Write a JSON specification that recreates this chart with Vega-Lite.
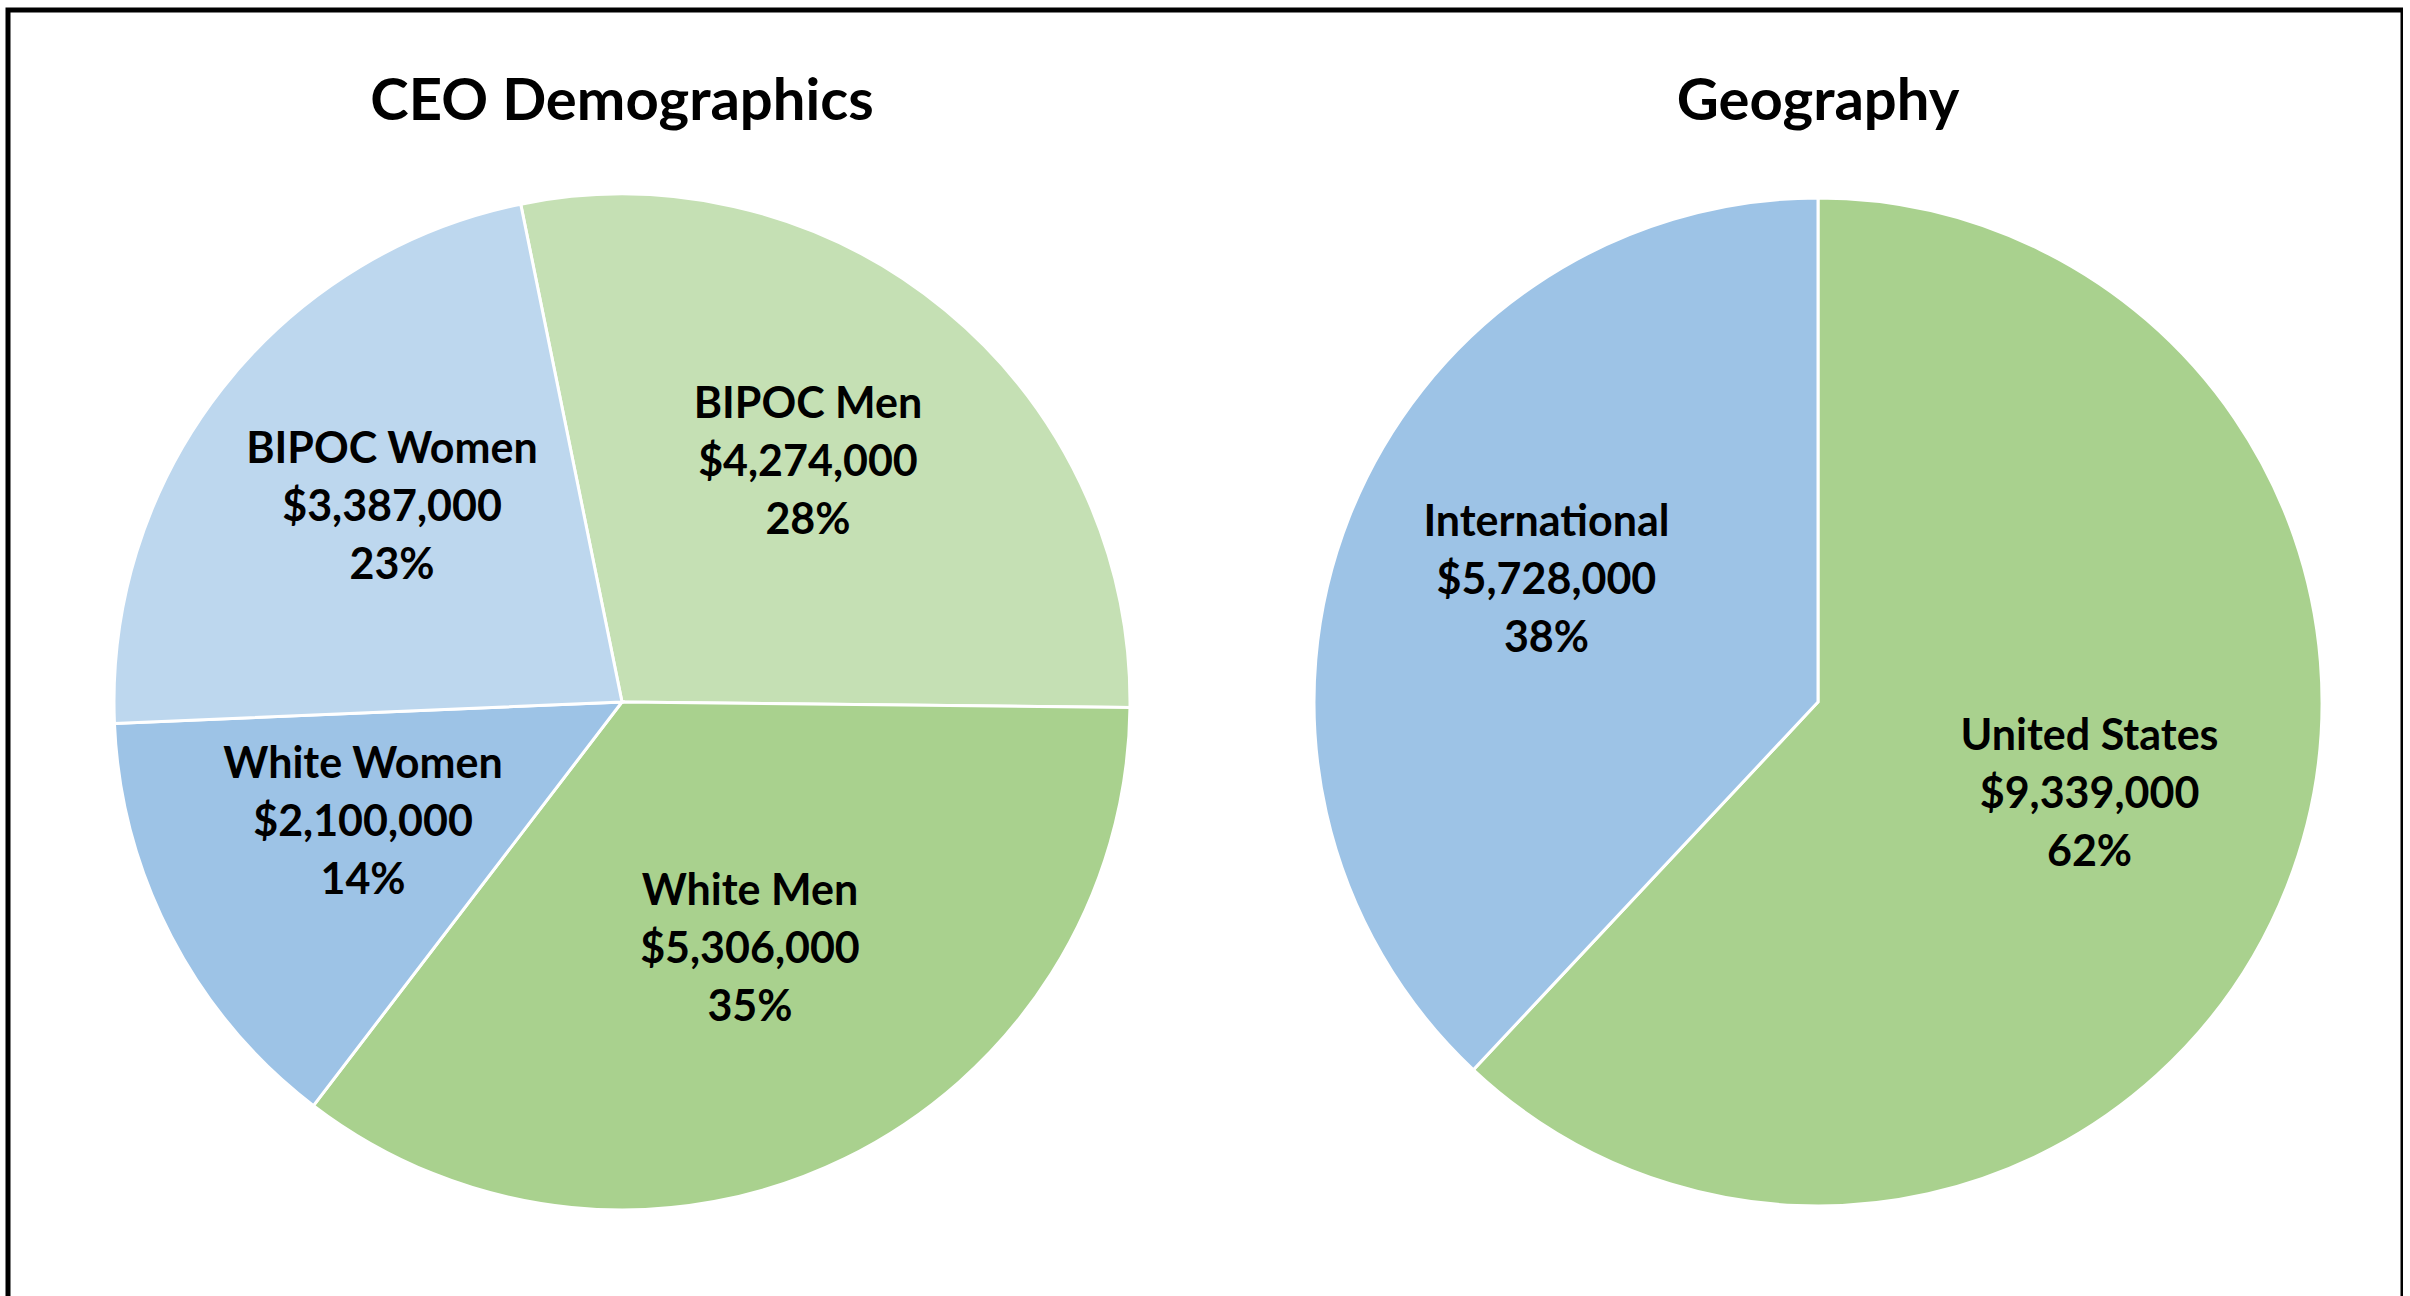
{
  "$schema": "https://vega.github.io/schema/vega-lite/v6.json",
  "width": 2395,
  "height": 1384,
  "autosize": {"type": "none"},
  "padding": {"left": 8, "top": 10, "right": 0, "bottom": 0},
  "background": "white",
  "config": {"view": {"stroke": "black", "strokeWidth": 5}, "font": "Lato"},
  "datasets": {
    "slices": [
      {"chart": "CEO Demographics", "name": "BIPOC Men", "value": 4274000, "pct": 28, "rank": 1},
      {"chart": "CEO Demographics", "name": "White Men", "value": 5306000, "pct": 35, "rank": 2},
      {"chart": "CEO Demographics", "name": "White Women", "value": 2100000, "pct": 14, "rank": 3},
      {"chart": "CEO Demographics", "name": "BIPOC Women", "value": 3387000, "pct": 23, "rank": 4},
      {"chart": "Geography", "name": "United States", "value": 9339000, "pct": 62, "rank": 1},
      {"chart": "Geography", "name": "International", "value": 5728000, "pct": 38, "rank": 2}
    ],
    "titles": [{"chart": "CEO Demographics"}, {"chart": "Geography"}]
  },
  "layer": [
    {
      "data": {"name": "slices"},
      "transform": [
        {"filter": "datum.chart === 'CEO Demographics'"},
        {"calculate": "[datum.name, format(datum.value, '$,'), datum.pct + '%']", "as": "lines"}
      ],
      "encoding": {
        "x": {"field": "chart", "type": "nominal", "axis": null, "scale": {"domain": ["CEO Demographics", "Geography"], "range": [614, 1810], "padding": 0}},
        "theta": {"field": "value", "type": "quantitative", "stack": true, "scale": {"range": [-0.2007, 6.0825]}},
        "order": {"field": "rank", "type": "quantitative"}
      },
      "layer": [
        {
          "mark": {"type": "arc", "outerRadius": 508, "stroke": "white", "strokeWidth": 3},
          "encoding": {
            "color": {"field": "name", "type": "nominal", "legend": null,
              "scale": {"domain": ["BIPOC Men", "White Men", "White Women", "BIPOC Women", "United States", "International"],
                        "range": ["#C5E0B4", "#A9D18E", "#9DC3E6", "#BDD7EE", "#A9D18E", "#9DC3E6"]}}
          }
        },
        {
          "mark": {"type": "text", "radius": 292, "dy": -72, "font": "Lato", "fontWeight": "bold", "fontSize": 43, "lineHeight": 58, "fill": "black", "baseline": "middle", "align": "center"},
          "encoding": {"text": {"field": "lines"}, "detail": {"field": "name"}}
        }
      ]
    },
    {
      "data": {"name": "slices"},
      "transform": [
        {"filter": "datum.chart === 'Geography'"},
        {"calculate": "[datum.name, format(datum.value, '$,'), datum.pct + '%']", "as": "lines"}
      ],
      "encoding": {
        "x": {"field": "chart", "type": "nominal", "axis": null},
        "theta": {"field": "value", "type": "quantitative", "stack": true},
        "order": {"field": "rank", "type": "quantitative"}
      },
      "layer": [
        {
          "mark": {"type": "arc", "outerRadius": 504, "stroke": "white", "strokeWidth": 3},
          "encoding": {"color": {"field": "name", "type": "nominal", "legend": null}}
        },
        {
          "mark": {"type": "text", "radius": 292, "dy": -72, "font": "Lato", "fontWeight": "bold", "fontSize": 43, "lineHeight": 58, "fill": "black", "baseline": "middle", "align": "center"},
          "encoding": {"text": {"field": "lines"}, "detail": {"field": "name"}}
        }
      ]
    },
    {
      "data": {"name": "titles"},
      "mark": {"type": "text", "y": 110, "baseline": "alphabetic", "align": "center", "font": "Lato", "fontWeight": "bold", "fontSize": 58, "fill": "black"},
      "encoding": {
        "x": {"field": "chart", "type": "nominal", "axis": null},
        "text": {"field": "chart"}
      }
    }
  ],
  "resolve": {"scale": {"theta": "independent"}}
}
